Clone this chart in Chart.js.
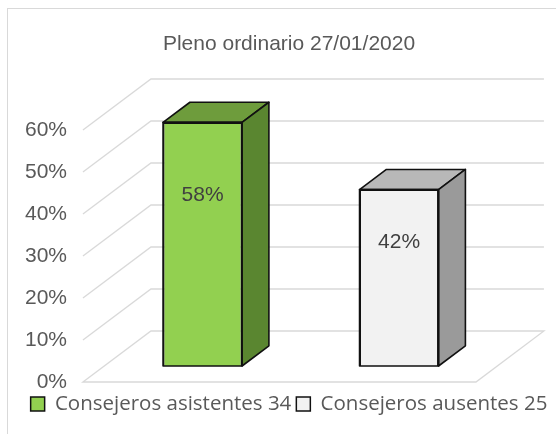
<!DOCTYPE html>
<html>
<head>
<meta charset="utf-8">
<script src="https://cdn.jsdelivr.net/npm/chart.js@4.4.1/dist/chart.umd.min.js"></script>
<style>
    body { margin: 0; background: #fff; }
    canvas { display: block; }
</style>
</head>
<body>
<canvas id="grafico-barras" width="556" height="434"></canvas>
<script>
// Datos del gráfico
const titulo = 'Pleno ordinario 27/01/2020';
const categorias = ['Consejeros asistentes 34', 'Consejeros ausentes 25'];
const porcentajes = [58, 42];
const marcasEje = [0, 10, 20, 30, 40, 50, 60];

// colores de cada barra (frente, techo, lado)
const coloresFrente = ['#92D050', '#F2F2F2'];
const coloresTecho = ['#6E9C3C', '#B8B8B8'];
const coloresLado = ['#5A8630', '#9A9A9A'];

// perspectiva del piso y de las barras
const PROF_X = 68, PROF_Y = 51;
const T_FRENTE = 0.314;
const T_BARRA = 0.395;

window.addEventListener("load", () => {
    gerarGraficoBarras();
});

// dibuja paredes, piso y las caras 3D de las barras
const efecto3d = {
    id: 'efecto3d',
    beforeDraw(chart) {
        const ctx = chart.ctx;
        ctx.save();
        ctx.fillStyle = '#fff';
        ctx.fillRect(0, 0, chart.width, chart.height);
        ctx.strokeStyle = '#d9d9d9';
        ctx.lineWidth = 1;
        ctx.strokeRect(7.5, 8.5, 600, 500);
        ctx.restore();
    },
    beforeDatasetsDraw(chart) {
        const ctx = chart.ctx;
        const area = chart.chartArea;
        const escalaY = chart.scales.y;
        const fx = -T_FRENTE * PROF_X, fy = T_FRENTE * PROF_Y;
        const bx = (1 - T_FRENTE) * PROF_X, by = -(1 - T_FRENTE) * PROF_Y;
        ctx.save();
        ctx.strokeStyle = '#d9d9d9';
        ctx.lineWidth = 1.3;
        marcasEje.forEach(v => {
            const py = escalaY.getPixelForValue(v);
            ctx.beginPath();
            ctx.moveTo(area.left + fx, py + fy);
            ctx.lineTo(area.left + bx, py + by);
            ctx.lineTo(area.right + bx, py + by);
            if (v === 0) {
                ctx.lineTo(area.right + fx, py + fy);
                ctx.closePath();
            }
            ctx.stroke();
        });
        ctx.restore();
    },
    afterDatasetsDraw(chart) {
        const ctx = chart.ctx;
        const dx = T_BARRA * PROF_X, dy = -T_BARRA * PROF_Y;
        ctx.save();
        chart.data.datasets.forEach((ds, i) => {
            const meta = chart.getDatasetMeta(i);
            meta.data.forEach((barra, j) => {
                if (ds.data[j] == null) return;
                const p = barra.getProps(['x', 'y', 'base', 'width'], true);
                const izq = p.x - p.width / 2, der = p.x + p.width / 2;
                const arriba = p.y, abajo = p.base;

                ctx.lineWidth = 1.6;
                ctx.lineJoin = 'round';
                ctx.strokeStyle = '#111';

                // techo
                ctx.beginPath();
                ctx.moveTo(izq, arriba);
                ctx.lineTo(izq + dx, arriba + dy);
                ctx.lineTo(der + dx, arriba + dy);
                ctx.lineTo(der, arriba);
                ctx.closePath();
                ctx.fillStyle = coloresTecho[i];
                ctx.fill();
                ctx.stroke();

                // lado
                ctx.beginPath();
                ctx.moveTo(der, arriba);
                ctx.lineTo(der + dx, arriba + dy);
                ctx.lineTo(der + dx, abajo + dy);
                ctx.lineTo(der, abajo);
                ctx.closePath();
                ctx.fillStyle = coloresLado[i];
                ctx.fill();
                ctx.stroke();

                // frente
                ctx.strokeRect(izq, arriba, der - izq, abajo - arriba);

                // etiqueta
                ctx.fillStyle = '#404040';
                ctx.font = '21px "Liberation Sans", Arial, sans-serif';
                ctx.textAlign = 'center';
                ctx.textBaseline = 'middle';
                ctx.fillText(ds.data[j] + '%', p.x, arriba + 0.3 * (abajo - arriba));
            });
        });
        ctx.restore();
    }
};

function gerarGraficoBarras() {
    const canvas = document.getElementById('grafico-barras');
    const datasets = categorias.map((cat, i) => ({
        label: cat,
        data: categorias.map((_, j) => j === i ? porcentajes[i] : null),
        backgroundColor: coloresFrente[i],
        borderColor: '#111',
        borderWidth: 1.5,
        grouped: false,
        categoryPercentage: 1,
        barPercentage: 0.402
    }));

    new Chart(canvas, {
        type: 'bar',
        data: {
            labels: categorias,
            datasets: datasets
        },
        options: {
            responsive: false,
            animation: false,
            layout: {
                padding: { left: 22, right: 0, top: 0, bottom: 9.75 }
            },
            scales: {
                x: {
                    grid: { display: false },
                    border: { display: false },
                    ticks: { display: false },
                    afterFit: (s) => { s.height = 22.75; }
                },
                y: {
                    min: 0,
                    max: 60,
                    grid: { display: false, drawTicks: false },
                    border: { display: false },
                    afterBuildTicks: (s) => { s.ticks = marcasEje.map(v => ({ value: v })); },
                    afterFit: (s) => { s.width = 82.3; },
                    ticks: {
                        padding: 37.3,
                        labelOffset: 16,
                        color: '#595959',
                        font: { family: '"Liberation Sans", Arial, sans-serif', size: 21 },
                        callback: (v) => v + '%'
                    }
                },
                y2: {
                    type: 'linear',
                    position: 'right',
                    grid: { display: false, drawTicks: false },
                    border: { display: false },
                    ticks: { display: false },
                    afterFit: (s) => { s.width = 58.7; }
                }
            },
            plugins: {
                title: {
                    display: true,
                    text: titulo,
                    color: '#595959',
                    font: { family: '"Liberation Sans", Arial, sans-serif', size: 21, weight: 'normal' },
                    padding: { top: 31.4, bottom: 57.4 }
                },
                legend: {
                    position: 'bottom',
                    labels: {
                        boxWidth: 14,
                        boxHeight: 14,
                        padding: 5,
                        color: '#595959',
                        font: { family: '"Open Sans", sans-serif', size: 20.5 }
                    }
                },
                tooltip: { enabled: false }
            }
        },
        plugins: [efecto3d]
    });
}
</script>
</body>
</html>
